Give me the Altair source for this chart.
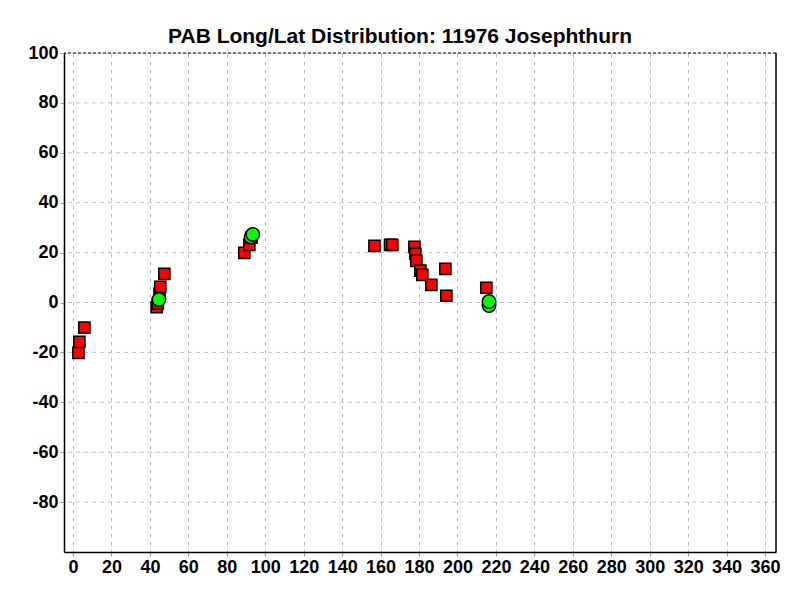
import altair as alt
import pandas as pd

# Red squares (PAB points)
sq_lon = [2.8, 3.3, 5.9, 43.5, 44.1, 45.0, 45.4, 47.5, 89.1, 91.7, 92.8,
          156.8, 164.9, 166.1, 177.6, 178.1, 178.6, 180.7, 181.7, 186.4,
          193.7, 194.2, 215.0]
sq_lat = [-20.2, -15.8, -10.1, -1.9, -0.5, 3.5, 6.3, 11.5, 19.9, 23.1, 26.0,
          22.7, 23.1, 23.1, 22.3, 19.5, 16.7, 12.8, 11.1, 7.1,
          13.5, 2.7, 5.9]

# Green circles
ci_lon = [44.7, 92.6, 93.5, 216.4, 216.4]
ci_lat = [1.2, 26.2, 27.3, -1.2, 0.4]

x_ticks = list(range(0, 361, 20))
y_ticks = list(range(-80, 101, 20))
y_grid = list(range(-80, 81, 20))

sq = pd.DataFrame({"lon": sq_lon, "lat": sq_lat, "order": range(len(sq_lon))})
ci = pd.DataFrame({"lon": ci_lon, "lat": ci_lat, "order": range(len(ci_lon))})

FONT = "Liberation Sans Narrow, Liberation Sans, Arial"
LBL = "datum.value < 0 ? '-' + abs(datum.value) : '' + datum.value"

xs = alt.Scale(domain=[-4.7, 365.7], nice=False, zero=False)
ys = alt.Scale(domain=[-100, 100], nice=False, zero=False)

x_axis = alt.Axis(values=x_ticks, title=None, grid=True, gridDash=[4, 4],
                  gridColor="#c0c0c0", gridWidth=1, domainColor="black",
                  domainWidth=1.5, tickColor="#a0a0a0", tickSize=4,
                  labelFont=FONT, labelFontSize=18, labelFontWeight="bold",
                  labelColor="black", labelPadding=2, labelExpr=LBL)
y_axis = alt.Axis(values=y_ticks, title=None, grid=False,
                  domainColor="black", domainWidth=1.5, tickColor="#a0a0a0",
                  tickSize=4, labelFont=FONT, labelFontSize=18,
                  labelFontWeight="bold", labelColor="black", labelPadding=2,
                  labelExpr=LBL)

base_grid = alt.Chart(pd.DataFrame({"g": y_grid})).mark_rule(
    color="#c0c0c0", strokeDash=[4, 4], strokeWidth=1
).encode(y=alt.Y("g:Q", scale=ys, axis=y_axis))

squares = alt.Chart(sq).mark_square(
    size=125, color="#ff0000", opacity=1, stroke="black", strokeWidth=1.5
).encode(
    x=alt.X("lon:Q", scale=xs, axis=x_axis),
    y=alt.Y("lat:Q", scale=ys, axis=y_axis),
    order="order:Q",
)

circles = alt.Chart(ci).mark_circle(
    size=180, color="#00ff00", opacity=1, stroke="black", strokeWidth=1.5
).encode(
    x=alt.X("lon:Q", scale=xs, axis=x_axis),
    y=alt.Y("lat:Q", scale=ys, axis=y_axis),
    order="order:Q",
)

top_border = alt.Chart(pd.DataFrame({"v": [100]})).mark_rule(
    color="black", strokeDash=[3, 2], strokeWidth=1
).encode(y=alt.Y("v:Q", scale=ys, axis=y_axis))

right_border = alt.Chart(pd.DataFrame({"v": [365.7]})).mark_rule(
    color="black", strokeWidth=1.5
).encode(x=alt.X("v:Q", scale=xs, axis=x_axis))

chart = alt.layer(base_grid, top_border, right_border, squares, circles).properties(
    width=712,
    height=499,
    title=alt.TitleParams(
        "PAB Long/Lat Distribution: 11976 Josephthurn",
        font="Liberation Sans", fontSize=21, fontWeight="bold",
        color="black", anchor="middle", dx=-20, offset=10, dy=13,
    ),
    autosize=alt.AutoSizeParams(type="none"),
    padding={"left": 56, "top": 45, "right": 16, "bottom": 40},
).configure_view(stroke=None).configure(background="white")

chart.save("out.html", embed_options={"renderer": "svg", "actions": False})
